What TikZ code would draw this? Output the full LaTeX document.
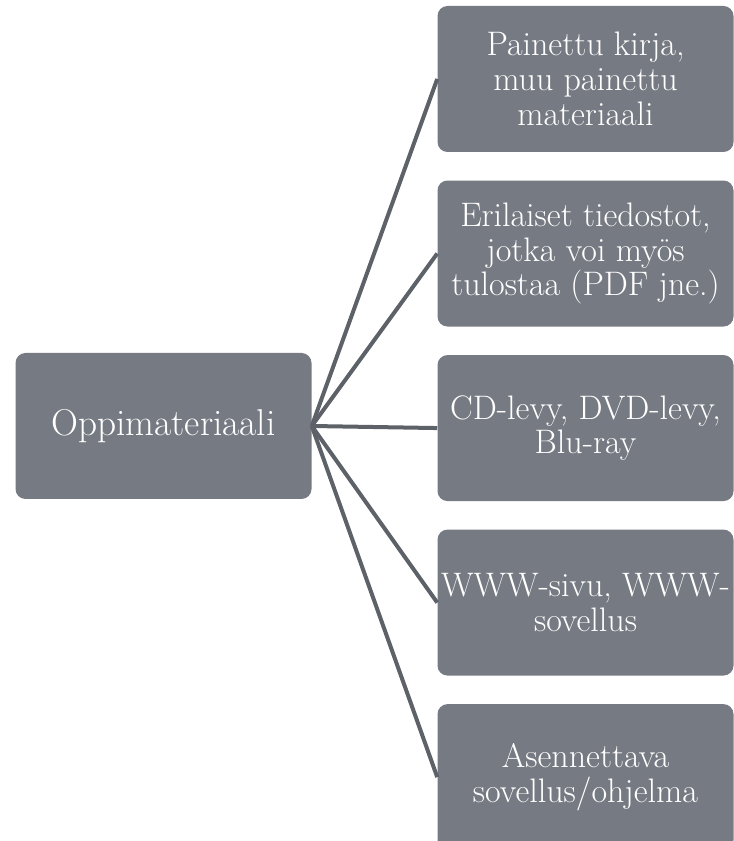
\documentclass[tikz,border=0pt]{standalone}
\usepackage{tikz}
\usetikzlibrary{positioning}
\definecolor{boxgray}{HTML}{767A82}
\definecolor{linkgray}{HTML}{5D6168}

\begin{document}
\begin{tikzpicture}[x=0.75pt, y=0.75pt,
  node distance=21pt,
  box/.style={fill=boxgray, text=white, rounded corners=7.5pt, minimum width=222pt, minimum height=109.5pt, align=center, inner sep=2pt},
  lead/.style={box, font=\fontsize{28}{32}\selectfont},
  item/.style={box, font=\fontsize{25.5}{26}\selectfont},
  link/.style={draw=linkgray, line width=3pt}]
\useasboundingbox (0,0) rectangle (734,841);
\node[lead] (oppi) at (163.5,415) {Oppimateriaali};
\node[item] (kirja) at (585.5,762) {Painettu kirja,\\muu painettu\\materiaali};
\node[item, below=of kirja] (tiedosto) {Erilaiset tiedostot,\\jotka voi myös\\tulostaa (PDF jne.)};
\node[item, below=of tiedosto] (levy) {CD-levy, DVD-levy,\\Blu-ray};
\node[item, below=of levy] (www) {WWW-sivu, WWW-\\sovellus};
\node[item, below=of www] (asenna) {Asennettava\\sovellus/ohjelma};
\foreach \n in {kirja,tiedosto,levy,www,asenna}
  \draw[link] (oppi.east) -- (\n.west);
\end{tikzpicture}
\end{document}
